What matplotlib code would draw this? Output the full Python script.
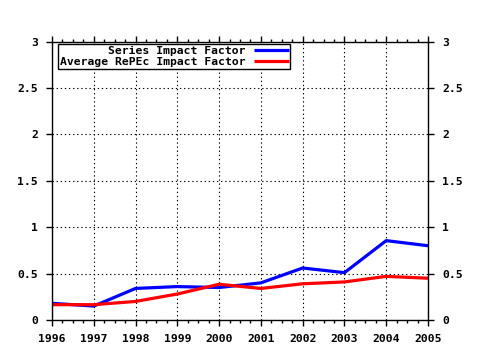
import matplotlib
matplotlib.use("Agg")
import matplotlib.pyplot as plt
from matplotlib.ticker import MultipleLocator, FuncFormatter

years = [1996, 1997, 1998, 1999, 2000, 2001, 2002, 2003, 2004, 2005]
series_if = [0.18, 0.15, 0.34, 0.36, 0.35, 0.40, 0.56, 0.51, 0.855, 0.80]
average_if = [0.165, 0.165, 0.20, 0.28, 0.385, 0.34, 0.39, 0.41, 0.47, 0.45]
labels = ["Series Impact Factor", "Average RePEc Impact Factor"]

plt.rcParams['font.family'] = ['DejaVu Sans Mono', 'DejaVu Sans']
plt.rcParams['font.weight'] = 'bold'
fs = 8.2

fig = plt.figure(figsize=(4.8, 3.5), dpi=100)
ax = fig.add_axes([52/480, 30/350, 376/480, 278.5/350])

ax.plot(years, series_if, color='#0000ff', lw=2.3, label=labels[0], solid_capstyle='butt')
ax.plot(years, average_if, color='#ff0000', lw=2.3, label=labels[1], solid_capstyle='butt')

ax.set_xlim(1996, 2005)
ax.set_ylim(0, 3)
ax.xaxis.set_major_locator(MultipleLocator(1))
ax.xaxis.set_minor_locator(MultipleLocator(0.25))
ax.yaxis.set_major_locator(MultipleLocator(0.5))
ax.yaxis.set_major_formatter(FuncFormatter(lambda v, p: f"{v:g}"))
ax.xaxis.set_major_formatter(FuncFormatter(lambda v, p: f"{int(round(v))}"))

ax.grid(True, which='major', color='black', linestyle=(0, (1.2, 2.5)), lw=0.8)
ax.tick_params(axis='both', which='major', direction='out', length=4, width=1,
               labelsize=fs, top=True, right=True, labelright=True, pad=6)
ax.tick_params(axis='x', which='minor', direction='out', length=2.5, width=1, top=True)
ax.tick_params(axis='y', which='minor', left=False, right=False)
for s in ax.spines.values():
    s.set_linewidth(1)
for lab in ax.get_xticklabels() + ax.get_yticklabels():
    lab.set_fontweight('bold')
for lab in ax.yaxis.get_ticklabels(which='major'):
    lab.set_fontweight('bold')

leg = ax.legend(loc='upper left', bbox_to_anchor=(6/376, 1 - 2.5/278.5), markerfirst=False,
                fancybox=False, framealpha=1, edgecolor='black', fontsize=fs,
                borderpad=0.15, labelspacing=0.15, handlelength=3.0, handletextpad=0.8,
                borderaxespad=0)
leg.get_frame().set_linewidth(1)
for t in leg.get_texts():
    t.set_fontweight('bold')

fig.savefig('out.png', dpi=100)
